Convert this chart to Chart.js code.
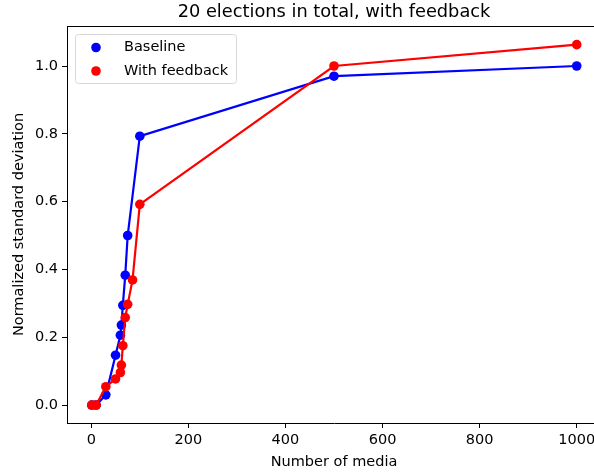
<!DOCTYPE html>
<html>
<head>
<meta charset="utf-8">
<script src="https://cdn.jsdelivr.net/npm/chart.js@4/dist/chart.umd.min.js"></script>
<style>
  html, body { margin: 0; padding: 0; background: #fff; overflow: hidden; }
  #wrap { width: 620px; height: 474px; }
</style>
</head>
<body>
<div id="wrap"><canvas id="c" width="620" height="474"></canvas></div>
<script>
// Number of media per run
const baselineMedia = [1, 10, 30, 50, 60, 62, 65, 70, 75, 100, 500, 1000];
const baselineStd   = [0, 0, 0.03, 0.147, 0.206, 0.236, 0.294, 0.383, 0.5, 0.793, 0.97, 1.0];

const feedbackMedia = [1, 10, 30, 50, 60, 62, 65, 70, 75, 85, 100, 500, 1000];
const feedbackStd   = [0, 0, 0.054, 0.077, 0.096, 0.118, 0.175, 0.258, 0.297, 0.369, 0.592, 1.0, 1.063];

const xTickValues = [0, 200, 400, 600, 800, 1000];
const yTickValues = [0.0, 0.2, 0.4, 0.6, 0.8, 1.0];

const seriesNames = ['Baseline', 'With feedback'];
const chartTitle = '20 elections in total, with feedback';
const xTitle = 'Number of media';
const yTitle = 'Normalized standard deviation';

const FONT = '"DejaVu Sans", sans-serif';
const LABEL_SIZE = 14.5;
const AREA = { left: 67, top: 26, right: 601, bottom: 423 };

function toPoints(xs, ys) { return xs.map((x, i) => ({ x: x, y: ys[i] })); }

// Title, axis titles, top spine and the in-plot legend
const decorations = {
  id: 'decorations',
  afterDraw(chart) {
    const ctx = chart.ctx;
    const a = chart.chartArea;
    ctx.save();
    // top spine
    ctx.strokeStyle = '#000';
    ctx.lineWidth = 1;
    ctx.beginPath();
    ctx.moveTo(a.left, a.top + 0.5);
    ctx.lineTo(a.right, a.top + 0.5);
    ctx.stroke();

    ctx.fillStyle = '#000';
    ctx.textAlign = 'center';
    ctx.textBaseline = 'middle';
    ctx.font = '17.8px ' + FONT;
    ctx.fillText(chartTitle, (a.left + a.right) / 2, 12);

    ctx.font = LABEL_SIZE + 'px ' + FONT;
    ctx.fillText(xTitle, (a.left + a.right) / 2, 462);
    ctx.save();
    ctx.translate(19, (a.top + a.bottom) / 2);
    ctx.rotate(-Math.PI / 2);
    ctx.fillText(yTitle, 0, 0);
    ctx.restore();

    // legend
    const lx = 75.5, ly = 34.5, lw = 161, lh = 49;
    ctx.fillStyle = 'rgba(255,255,255,0.8)';
    ctx.strokeStyle = '#d6d6d6';
    ctx.lineWidth = 1;
    ctx.beginPath();
    if (ctx.roundRect) ctx.roundRect(lx, ly, lw, lh, 3); else ctx.rect(lx, ly, lw, lh);
    ctx.fill();
    ctx.stroke();
    const colors = ['#0000ff', '#ff0000'];
    const rows = [47.5, 71];
    ctx.font = LABEL_SIZE + 'px ' + FONT;
    ctx.textAlign = 'left';
    rows.forEach((ry, i) => {
      ctx.fillStyle = colors[i];
      ctx.beginPath();
      ctx.arc(96, ry, 4.8, 0, Math.PI * 2);
      ctx.fill();
      ctx.fillStyle = '#000';
      ctx.fillText(seriesNames[i], 124, ry);
    });
    ctx.restore();
  }
};

const tickStyle = {
  color: '#000',
  font: { family: FONT, size: LABEL_SIZE }
};
const gridStyle = { drawOnChartArea: false, drawTicks: true, tickLength: 5, color: '#000', tickWidth: 1 };

new Chart(document.getElementById('c'), {
  type: 'scatter',
  data: {
    datasets: [
      {
        label: seriesNames[0],
        data: toPoints(baselineMedia, baselineStd),
        showLine: true,
        borderColor: '#0000ff',
        backgroundColor: '#0000ff',
        borderWidth: 2.2,
        pointRadius: 4.8,
        pointBorderWidth: 0,
        pointHoverRadius: 4.8,
        order: 2
      },
      {
        label: seriesNames[1],
        data: toPoints(feedbackMedia, feedbackStd),
        showLine: true,
        borderColor: '#ff0000',
        backgroundColor: '#ff0000',
        borderWidth: 2.2,
        pointRadius: 4.8,
        pointBorderWidth: 0,
        pointHoverRadius: 4.8,
        order: 1
      }
    ]
  },
  options: {
    responsive: false,
    animation: false,
    devicePixelRatio: 1,
    layout: { padding: { top: AREA.top, right: 620 - AREA.right, left: 0, bottom: 0 } },
    plugins: {
      legend: { display: false },
      title: { display: false },
      tooltip: { enabled: false }
    },
    scales: {
      x: {
        type: 'linear',
        min: -50,
        max: 1050,
        afterFit(s) { s.height = 474 - AREA.bottom; },
        afterBuildTicks(s) { s.ticks = xTickValues.map(v => ({ value: v })); },
        grid: gridStyle,
        border: { display: true, color: '#000', width: 1 },
        ticks: Object.assign({}, tickStyle, {
          padding: 4,
          maxRotation: 0,
          callback: v => String(v)
        })
      },
      y: {
        type: 'linear',
        min: -0.053,
        max: 1.118,
        afterFit(s) { s.width = AREA.left; },
        afterBuildTicks(s) { s.ticks = yTickValues.map(v => ({ value: v })); },
        grid: gridStyle,
        border: { display: true, color: '#000', width: 1 },
        ticks: Object.assign({}, tickStyle, {
          padding: 4,
          callback: v => Number(v).toFixed(1)
        })
      }
    }
  },
  plugins: [decorations]
});
</script>
</body>
</html>
